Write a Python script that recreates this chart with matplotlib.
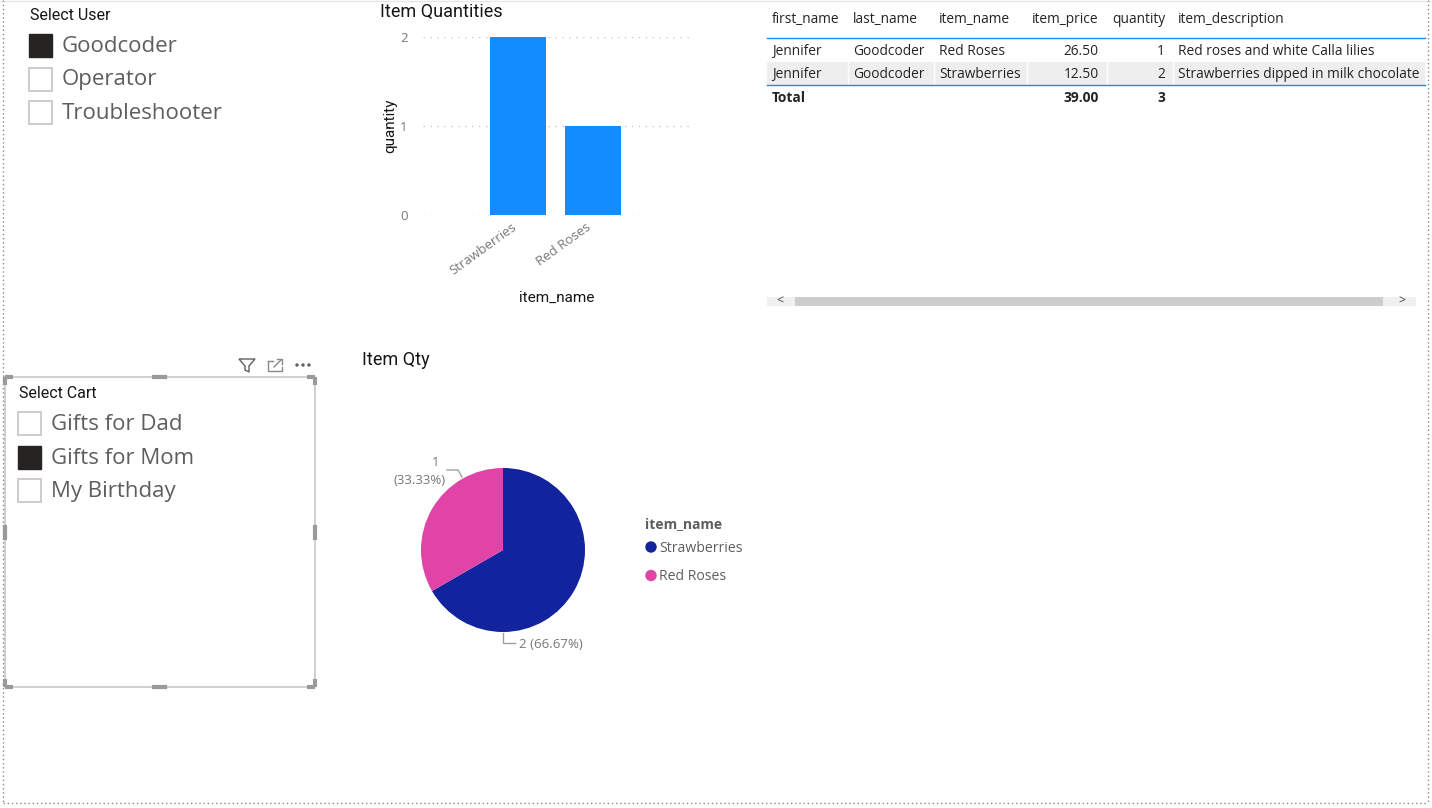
import matplotlib
matplotlib.use("Agg")
import matplotlib.pyplot as plt
import matplotlib.transforms as mtransforms
from matplotlib.patches import Rectangle, Circle, Polygon

# slicers
users = ["Goodcoder", "Operator", "Troubleshooter"]
user_selected = [True, False, False]
carts = ["Gifts for Dad", "Gifts for Mom", "My Birthday"]
cart_selected = [False, True, False]

# bar + pie data
items = ["Strawberries", "Red Roses"]
quantities = [2, 1]
item_colors = ["#12239E", "#E044A7"]

# table
table_cols = ["first_name", "last_name", "item_name", "item_price", "quantity", "item_description"]
table_rows = [
    ["Jennifer", "Goodcoder", "Red Roses", "26.50", "1", "Red roses and white Calla lilies"],
    ["Jennifer", "Goodcoder", "Strawberries", "12.50", "2", "Strawberries dipped in milk chocolate"],
]
total_row = ["Total", "", "", "39.00", "3", ""]

W, H = 1432, 808
plt.rcParams['font.family'] = ['Open Sans', 'DejaVu Sans']
title_font = ['Roboto', 'DejaVu Sans']
TC = "#161616"  # title colour

fig = plt.figure(figsize=(W / 100, H / 100), dpi=100)
fig.patch.set_facecolor("white")


def box(x0, y0, x1, y1):
    # pixel box (origin top-left) -> figure fraction rect
    return [x0 / W, 1 - y1 / H, (x1 - x0) / W, (y1 - y0) / H]


cv = fig.add_axes([0, 0, 1, 1])
cv.set_xlim(0, W)
cv.set_ylim(H, 0)
cv.axis("off")

# page frame
cv.plot([0, W], [0.5, 0.5], color="#e6e6e6", lw=1)
dot = dict(color="#8a8a8a", lw=1, linestyle=(0, (1, 2)))
cv.plot([3, 3], [0, 803], **dot)
cv.plot([1428, 1428], [0, 803], **dot)
cv.plot([3, 1428], [803, 803], **dot)


def slicer(x, y, title, labels, selected, step):
    cv.text(x + 1, y, title, fontsize=11.5, family=title_font, color=TC, va="center")
    for i, (lab, sel) in enumerate(zip(labels, selected)):
        cy = y + 30 + i * step
        if sel:
            cv.add_patch(Rectangle((x, cy - 11), 23, 23, facecolor="#252423", edgecolor="#252423", lw=1))
        else:
            cv.add_patch(Rectangle((x, cy - 11), 23, 23, facecolor="white", edgecolor="#c8c8c8", lw=1.3))
        cv.text(x + 33, cy + 1.5, lab, fontsize=16, color="#605e5c", va="center")


slicer(29, 15, "Select User", users, user_selected, 33.5)
slicer(18, 393, "Select Cart", carts, cart_selected, 33.5)

# selected slicer box with handles
cv.add_patch(Rectangle((5, 377), 310, 310, facecolor="none", edgecolor="#c8c8c8", lw=1.2))
hc = "#9a9a9a"
for (x, y, dx, dy) in [(5, 377, 1, 1), (315, 377, -1, 1), (5, 687, 1, -1), (315, 687, -1, -1)]:
    cv.plot([x, x + 8 * dx], [y, y], color=hc, lw=3, solid_capstyle="butt")
    cv.plot([x, x], [y, y + 8 * dy], color=hc, lw=3, solid_capstyle="butt")
cv.plot([154, 165], [377, 377], color=hc, lw=3)
cv.plot([154, 165], [687, 687], color=hc, lw=3)
cv.plot([5, 5], [527, 538], color=hc, lw=3)
cv.plot([315, 315], [527, 538], color=hc, lw=3)

# header icons
cv.add_patch(Polygon([(239, 359), (255, 359), (249, 366), (249, 372), (245, 370), (245, 366)],
                     closed=True, facecolor="none", edgecolor="#605e5c", lw=1))
cv.plot([268, 268, 282, 282], [361, 371, 371, 367], color="#8a8a8a", lw=1)
cv.plot([268, 273], [361, 361], color="#8a8a8a", lw=1)
cv.plot([277, 282, 282], [359, 359, 364], color="#8a8a8a", lw=1)
cv.plot([274, 281], [367, 360], color="#8a8a8a", lw=1)
for x in [297, 303, 309]:
    cv.add_patch(Circle((x, 365), 1.0, color="#605e5c"))

# bar chart
cv.text(380, 12, "Item Quantities", fontsize=13, family=title_font, color=TC, va="center")
ax = fig.add_axes(box(423, 37, 692, 215))
ax.set_facecolor("none")
xs = list(range(len(items)))
ax.bar(xs, quantities, width=0.747, color="#118DFF", zorder=3)
ax.set_xlim(-1.267, 2.32)
ax.set_ylim(0, 2)
ax.set_yticks([0, 1, 2])
ax.yaxis.grid(True, color="#c8c8c8", linestyle=(0, (1, 4)), lw=1)
ax.set_axisbelow(True)
for s in ax.spines.values():
    s.set_visible(False)
ax.tick_params(length=0, colors="#777777", labelsize=9.5)
ax.tick_params(axis="y", pad=11)
ax.set_xticks(xs)
ax.set_xticklabels(items, rotation=36, ha="right", va="top", rotation_mode="anchor")
ax.tick_params(axis="x", pad=5)
shift = mtransforms.ScaledTranslation(-7 / 100, 1 / 100, fig.dpi_scale_trans)
for lab in ax.get_xticklabels():
    lab.set_transform(lab.get_transform() + shift)
cv.text(390, 126, "quantity", rotation=90, fontsize=11, family=title_font, color=TC,
        ha="center", va="center")
cv.text(557, 298, "item_name", fontsize=11, family=title_font, color=TC,
        ha="center", va="center")

# table
col_x = [772, 853, 939, 1099, 1165, 1178]
col_ha = ["left", "left", "left", "right", "right", "left"]
head_x = [772, 853, 939, 1032, 1112, 1178]
for c, x in zip(table_cols, head_x):
    cv.text(x, 19.5, c, fontsize=9.9, color="#252423", va="center", ha="left")
cv.add_patch(Rectangle((767, 62), 658, 23, facecolor="#eeeeee", edgecolor="none"))
for sx in [848, 934, 1027, 1107, 1173]:
    cv.plot([sx, sx], [62, 85], color="white", lw=1)
cv.plot([767, 1425], [38, 38], color="#118DFF", lw=1)
cv.plot([767, 1425], [85, 85], color="#118DFF", lw=1)
for r, row in enumerate(table_rows):
    y = 51.5 + r * 23
    for val, x, ha in zip(row, col_x, col_ha):
        cv.text(x, y, val, fontsize=9.9, color="#252423", va="center", ha=ha)
for val, x, ha in zip(total_row, col_x, col_ha):
    cv.text(x, 98.5, val, fontsize=9.9, color="#252423", va="center", ha=ha, weight="bold")

# scroll bar
cv.add_patch(Rectangle((767, 297), 649, 9, facecolor="#f0f0f0", edgecolor="none"))
cv.add_patch(Rectangle((795, 297), 588, 9, facecolor="#cdcdcd", edgecolor="none"))
cv.text(780, 301.5, "<", fontsize=9, color="#444444", ha="center", va="center")
cv.text(1402, 301.5, ">", fontsize=9, color="#444444", ha="center", va="center")

# pie chart
cv.text(362, 360, "Item Qty", fontsize=13, family=title_font, color=TC, va="center")
pax = fig.add_axes(box(421, 468, 585, 632))
pax.pie(quantities, colors=item_colors, startangle=90, counterclock=False,
        wedgeprops=dict(linewidth=0))
pax.set_xlim(-1, 1)
pax.set_ylim(-1, 1)
total = sum(quantities)
pct = [f"{q} ({q / total * 100:.2f}%)" for q in quantities]
lc = "#a0a0a0"
cv.plot([447, 458, 462], [470, 470, 477], color=lc, lw=1)
cv.text(439, 463, str(quantities[1]), fontsize=9.5, color="#777777", ha="right", va="center")
cv.text(446, 480, f"({quantities[1] / total * 100:.2f}%)", fontsize=9.5, color="#777777",
        ha="right", va="center")
cv.plot([503, 503, 515], [633, 643, 643], color=lc, lw=1)
cv.text(519, 644, pct[0], fontsize=9.5, color="#777777", ha="left", va="center")

# legend
cv.text(645, 524, "item_name", fontsize=10, color="#605e5c", weight="bold", va="center")
for i, (lab, col) in enumerate(zip(items, item_colors)):
    y = 547 + i * 28.5
    cv.add_patch(Circle((651, y), 5, color=col))
    cv.text(659, y + 1, lab, fontsize=10.1, color="#605e5c", va="center")

fig.savefig("out.png", dpi=100)
